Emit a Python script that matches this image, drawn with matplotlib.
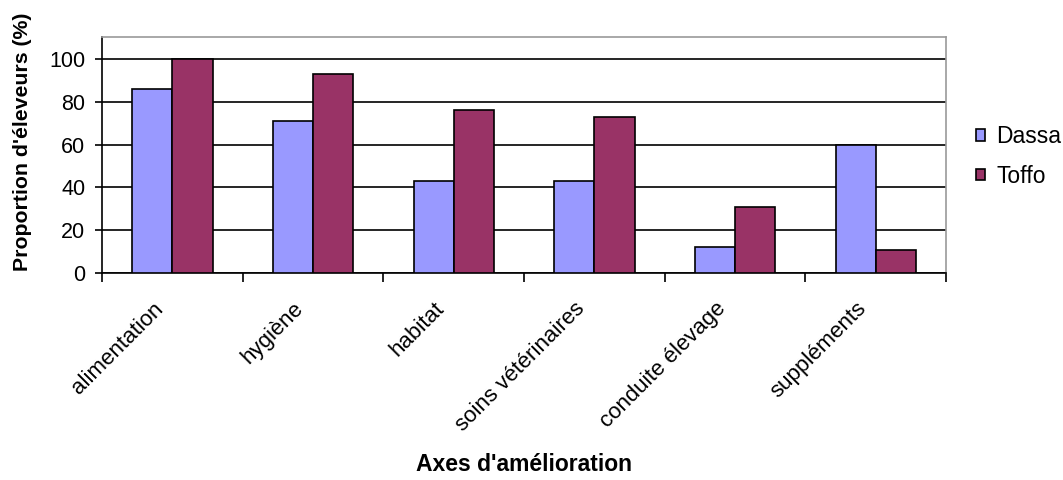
import numpy as np
import matplotlib.pyplot as plt
from matplotlib.transforms import ScaledTranslation

plt.rcParams['font.family'] = ['Liberation Sans', 'DejaVu Sans']

# Survey results: share of farmers citing each improvement area
categories = ["alimentation", "hygiène", "habitat", "soins vétérinaires",
              "conduite élevage", "suppléments"]
dassa = [86, 71, 43, 43, 12, 60]
toffo = [100, 93, 76, 73, 31, 11]

fig = plt.figure(figsize=(10.63, 4.8), dpi=100)
ax = fig.add_axes([0.096, 0.431, 0.794, 0.491])

x = np.arange(len(categories))
w = 1 / 3.5  # Excel-style gap width of 150%
ax.bar(x - w / 2, dassa, w, color="#9999FF", edgecolor="black", linewidth=1.2,
       label="Dassa", zorder=3)
ax.bar(x + w / 2, toffo, w, color="#993366", edgecolor="black", linewidth=1.2,
       label="Toffo", zorder=3)

ax.set_xlim(-0.5, len(categories) - 0.5)
ax.set_ylim(0, 110)
ax.set_yticks(range(0, 101, 20))
ax.yaxis.grid(True, color="black", linewidth=1.2, zorder=0)
ax.tick_params(axis="y", labelsize=15.5, length=5, width=1.2, direction="out",
               pad=7)

# category ticks sit on the boundaries, labels at the centres
ax.set_xticks(np.arange(len(categories) + 1) - 0.5)
ax.set_xticklabels([])
ax.set_xticks(x, minor=True)
ax.set_xticklabels(categories, minor=True, rotation=45, ha="right",
                   va="top", rotation_mode="anchor", fontsize=16)
ax.tick_params(axis="x", which="major", length=6.5, width=1.2)
ax.tick_params(axis="x", which="minor", length=0, pad=18)
shift = ScaledTranslation(-0.2, 0, fig.dpi_scale_trans)
for lab in ax.get_xticklabels(minor=True):
    lab.set_transform(lab.get_transform() + shift)

for side in ["left", "bottom"]:
    ax.spines[side].set_color("black")
    ax.spines[side].set_linewidth(1.2)
for side in ["top", "right"]:
    ax.spines[side].set_color("#999999")
    ax.spines[side].set_linewidth(1.2)

ax.set_ylabel("Proportion d'éleveurs (%)", fontsize=15.3, fontweight="bold",
              va="center")
ax.yaxis.set_label_coords(-0.0948, 0.559)
ax.set_xlabel("Axes d'amélioration", fontsize=16.5, fontweight="bold")
ax.xaxis.set_label_coords(0.5, -0.763)

ax.legend(loc="center left", bbox_to_anchor=(1.0, 0.495), frameon=False,
          fontsize=16.5, handlelength=0.4, handleheight=0.4,
          handletextpad=0.5, labelspacing=0.72, borderaxespad=0.9)

fig.savefig("out.png", dpi=100)
